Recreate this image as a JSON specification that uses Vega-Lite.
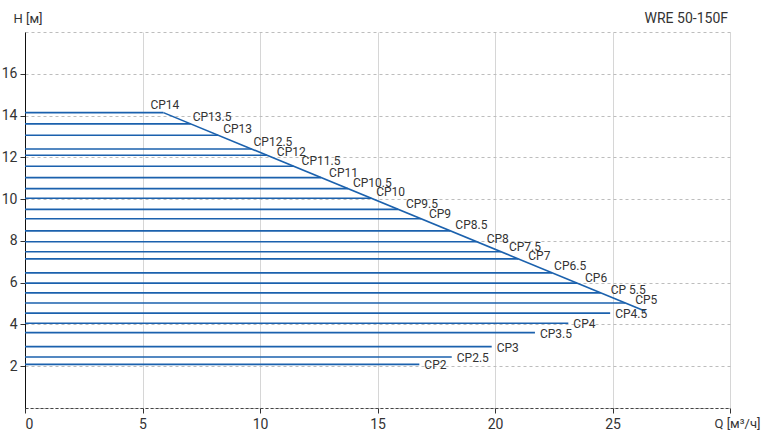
{
  "$schema": "https://vega.github.io/schema/vega-lite/v6.json",
  "width": 705,
  "height": 376,
  "autosize": "none",
  "padding": {"left": 25, "top": 32, "right": 38, "bottom": 30},
  "background": "white",
  "config": {
    "font": "Roboto",
    "view": {"stroke": null},
    "axis": {"labelFont": "Roboto", "titleFont": "Roboto", "labelColor": "#333", "titleColor": "#333", "tickColor": "#333", "labelFontSize": 14}
  },
  "datasets": {
    "pumps": [
      {"name": "CP14", "h": 14.14, "q": 5.89, "pos": "diag"},
      {"name": "CP13.5", "h": 13.60, "q": 7.05, "pos": "diag"},
      {"name": "CP13", "h": 13.06, "q": 8.22, "pos": "diag"},
      {"name": "CP12.5", "h": 12.40, "q": 9.64, "pos": "diag"},
      {"name": "CP12", "h": 12.10, "q": 10.29, "pos": "diag"},
      {"name": "CP11.5", "h": 11.57, "q": 11.43, "pos": "diag"},
      {"name": "CP11", "h": 11.03, "q": 12.60, "pos": "diag"},
      {"name": "CP10.5", "h": 10.50, "q": 13.74, "pos": "diag"},
      {"name": "CP10", "h": 10.04, "q": 14.73, "pos": "diag"},
      {"name": "CP9.5", "h": 9.51, "q": 15.87, "pos": "diag"},
      {"name": "CP9", "h": 9.06, "q": 16.85, "pos": "diag"},
      {"name": "CP8.5", "h": 8.48, "q": 18.10, "pos": "diag"},
      {"name": "CP8", "h": 7.96, "q": 19.22, "pos": "diag"},
      {"name": "CP7.5", "h": 7.48, "q": 20.25, "pos": "diag"},
      {"name": "CP7", "h": 7.14, "q": 20.99, "pos": "diag"},
      {"name": "CP6.5", "h": 6.47, "q": 22.43, "pos": "diag"},
      {"name": "CP6", "h": 5.98, "q": 23.49, "pos": "diag"},
      {"name": "CP 5.5", "h": 5.51, "q": 24.50, "pos": "diag"},
      {"name": "CP5", "h": 5.03, "q": 25.54, "pos": "diag"},
      {"name": "CP4.5", "h": 4.54, "q": 24.90, "pos": "free"},
      {"name": "CP4", "h": 4.06, "q": 23.12, "pos": "free"},
      {"name": "CP3.5", "h": 3.61, "q": 21.70, "pos": "free"},
      {"name": "CP3", "h": 2.94, "q": 19.86, "pos": "free"},
      {"name": "CP2.5", "h": 2.44, "q": 18.16, "pos": "free"},
      {"name": "CP2", "h": 2.09, "q": 16.78, "pos": "free"}
    ],
    "diagonal": [
      {"q": 5.89, "h": 14.14},
      {"q": 26.4, "h": 4.63}
    ],
    "heading": [
      {"label": "WRE 50-150F"}
    ]
  },
  "layer": [
    {
      "data": {"name": "pumps"},
      "mark": {"type": "rule", "color": "#1b61ad", "strokeWidth": 1.6},
      "encoding": {
        "x": {
          "field": "q",
          "type": "quantitative",
          "scale": {"domain": [0, 30], "nice": false, "zero": false},
          "axis": {
            "values": [0, 5, 10, 15, 20, 25, 30],
            "labelExpr": "datum.value == 30 ? '' : datum.label",
            "grid": true,
            "gridColor": "#d6d6d6",
            "gridWidth": 1,
            "domainColor": "#444",
            "domainDash": [3, 2],
            "tickSize": 5,
            "labelPadding": 4,
            "title": "Q [м³/ч]",
            "titleFontSize": 13,
            "titleFontWeight": "normal",
            "titleAlign": "left",
            "titleBaseline": "middle",
            "titleX": 689,
            "titleY": 15
          }
        },
        "x2": {"datum": 0},
        "y": {
          "field": "h",
          "type": "quantitative",
          "scale": {"domain": [0, 18], "nice": false, "zero": false},
          "axis": {
            "values": [0, 2, 4, 6, 8, 10, 12, 14, 16, 18],
            "labelExpr": "(datum.value == 0 || datum.value == 18) ? '' : datum.label",
            "tickOpacity": {"condition": {"test": "datum.value == 0 || datum.value == 18", "value": 0}, "value": 1},
            "grid": true,
            "gridColor": "#bdbdbd",
            "gridDash": [3, 3],
            "gridWidth": 1,
            "domainColor": "#111",
            "tickSize": 5,
            "labelPadding": 3,
            "title": "H [м]",
            "titleFontSize": 13,
            "titleFontWeight": "normal",
            "titleAngle": 0,
            "titleAlign": "left",
            "titleBaseline": "middle",
            "titleX": -12,
            "titleY": -14
          }
        }
      }
    },
    {
      "data": {"name": "diagonal"},
      "mark": {"type": "line", "color": "#1b61ad", "strokeWidth": 1.6},
      "encoding": {
        "x": {"field": "q", "type": "quantitative"},
        "y": {"field": "h", "type": "quantitative"}
      }
    },
    {
      "data": {"name": "heading"},
      "mark": {"type": "text", "align": "right", "baseline": "middle", "dy": -13, "dx": -2, "fontSize": 14, "color": "#333", "font": "Roboto"},
      "encoding": {
        "x": {"datum": 30, "type": "quantitative"},
        "y": {"datum": 18, "type": "quantitative"},
        "text": {"field": "label"}
      }
    },
    {
      "data": {"name": "pumps"},
      "transform": [{"filter": "datum.name == 'CP14'"}],
      "mark": {"type": "text", "align": "left", "baseline": "middle", "dx": -13, "dy": -8, "fontSize": 12, "color": "#333", "font": "Roboto"},
      "encoding": {
        "x": {"field": "q", "type": "quantitative"},
        "y": {"field": "h", "type": "quantitative"},
        "text": {"field": "name"}
      }
    },
    {
      "data": {"name": "pumps"},
      "transform": [{"filter": "indexof(['CP13.5', 'CP12.5', 'CP6.5'], datum.name) >= 0"}],
      "mark": {"type": "text", "align": "left", "baseline": "middle", "dx": 2, "dy": -7, "fontSize": 12, "color": "#333", "font": "Roboto"},
      "encoding": {
        "x": {"field": "q", "type": "quantitative"},
        "y": {"field": "h", "type": "quantitative"},
        "text": {"field": "name"}
      }
    },
    {
      "data": {"name": "pumps"},
      "transform": [{"filter": "indexof(['CP13', 'CP10.5', 'CP10', 'CP8.5'], datum.name) >= 0"}],
      "mark": {"type": "text", "align": "left", "baseline": "middle", "dx": 5, "dy": -6, "fontSize": 12, "color": "#333", "font": "Roboto"},
      "encoding": {
        "x": {"field": "q", "type": "quantitative"},
        "y": {"field": "h", "type": "quantitative"},
        "text": {"field": "name"}
      }
    },
    {
      "data": {"name": "pumps"},
      "transform": [{"filter": "indexof(['CP11.5', 'CP11', 'CP9.5', 'CP9', 'CP7.5', 'CP6'], datum.name) >= 0"}],
      "mark": {"type": "text", "align": "left", "baseline": "middle", "dx": 8, "dy": -5, "fontSize": 12, "color": "#333", "font": "Roboto"},
      "encoding": {
        "x": {"field": "q", "type": "quantitative"},
        "y": {"field": "h", "type": "quantitative"},
        "text": {"field": "name"}
      }
    },
    {
      "data": {"name": "pumps"},
      "transform": [{"filter": "indexof(['CP12', 'CP8', 'CP7', 'CP 5.5', 'CP5'], datum.name) >= 0"}],
      "mark": {"type": "text", "align": "left", "baseline": "middle", "dx": 10, "dy": -3, "fontSize": 12, "color": "#333", "font": "Roboto"},
      "encoding": {
        "x": {"field": "q", "type": "quantitative"},
        "y": {"field": "h", "type": "quantitative"},
        "text": {"field": "name"}
      }
    },
    {
      "data": {"name": "pumps"},
      "transform": [{"filter": "datum.pos == 'free'"}],
      "mark": {"type": "text", "align": "left", "baseline": "middle", "dx": 5, "dy": 1, "fontSize": 12, "color": "#333", "font": "Roboto"},
      "encoding": {
        "x": {"field": "q", "type": "quantitative"},
        "y": {"field": "h", "type": "quantitative"},
        "text": {"field": "name"}
      }
    }
  ]
}
